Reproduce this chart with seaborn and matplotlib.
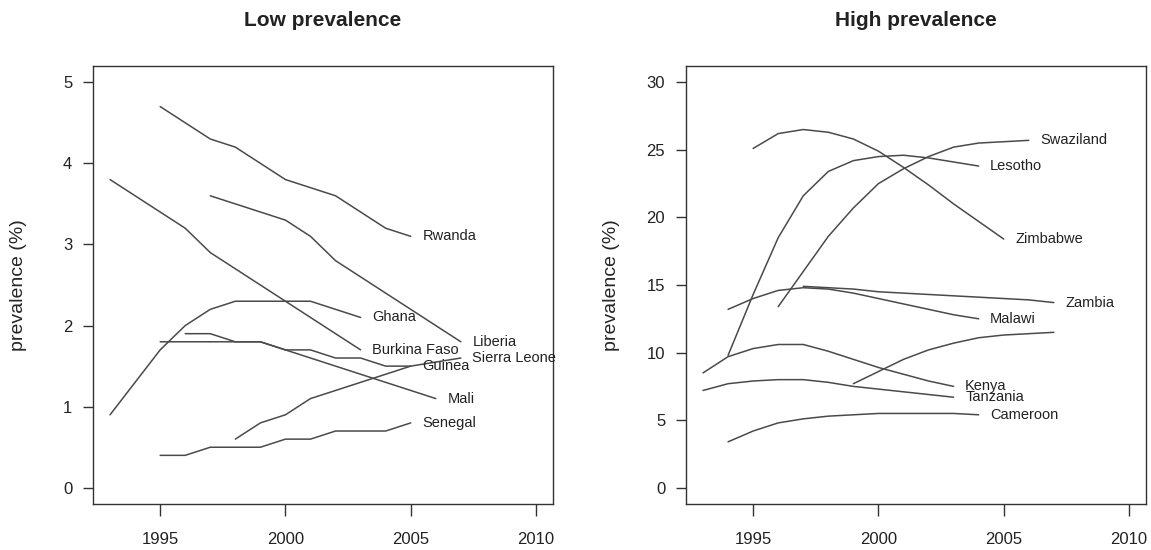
import matplotlib
matplotlib.use("Agg")
import matplotlib.pyplot as plt
import seaborn as sns
import pandas as pd

# ---------------- data ----------------
# Low prevalence panel
rwanda_years = [1995, 1997, 1998, 2000, 2002, 2004, 2005]
rwanda_vals = [4.7, 4.3, 4.2, 3.8, 3.6, 3.2, 3.1]
burkina_years = [1993, 1996, 1997, 2003]
burkina_vals = [3.8, 3.2, 2.9, 1.7]
liberia_years = [1997, 2000, 2001, 2002, 2007]
liberia_vals = [3.6, 3.3, 3.1, 2.8, 1.8]
ghana_years = [1993, 1995, 1996, 1997, 1998, 2001, 2003]
ghana_vals = [0.9, 1.7, 2.0, 2.2, 2.3, 2.3, 2.1]
guinea_years = [1995, 1999, 2000, 2001, 2002, 2003, 2004, 2005]
guinea_vals = [1.8, 1.8, 1.7, 1.7, 1.6, 1.6, 1.5, 1.5]
sierra_years = [1998, 1999, 2000, 2001, 2002, 2005, 2007]
sierra_vals = [0.6, 0.8, 0.9, 1.1, 1.2, 1.5, 1.6]
mali_years = [1996, 1997, 1998, 1999, 2006]
mali_vals = [1.9, 1.9, 1.8, 1.8, 1.1]
senegal_years = [1995, 1996, 1997, 1999, 2000, 2001, 2002, 2004, 2005]
senegal_vals = [0.4, 0.4, 0.5, 0.5, 0.6, 0.6, 0.7, 0.7, 0.8]

# High prevalence panel
zimbabwe_years = list(range(1995, 2006))
zimbabwe_vals = [25.1, 26.2, 26.5, 26.3, 25.8, 24.9, 23.7, 22.4, 21.0, 19.7, 18.4]
lesotho_years = list(range(1994, 2005))
lesotho_vals = [9.8, 14.3, 18.5, 21.6, 23.4, 24.2, 24.5, 24.6, 24.4, 24.1, 23.8]
swaziland_years = list(range(1996, 2007))
swaziland_vals = [13.4, 16.0, 18.6, 20.7, 22.5, 23.6, 24.5, 25.2, 25.5, 25.6, 25.7]
zambia_years = list(range(1997, 2008))
zambia_vals = [14.9, 14.8, 14.7, 14.5, 14.4, 14.3, 14.2, 14.1, 14.0, 13.9, 13.7]
malawi_years = list(range(1994, 2005))
malawi_vals = [13.2, 14.0, 14.6, 14.8, 14.7, 14.4, 14.0, 13.6, 13.2, 12.8, 12.5]
kenya_years = list(range(1993, 2004))
kenya_vals = [8.5, 9.7, 10.3, 10.6, 10.6, 10.1, 9.5, 8.9, 8.4, 7.9, 7.5]
tanzania_years = list(range(1993, 2004))
tanzania_vals = [7.2, 7.7, 7.9, 8.0, 8.0, 7.8, 7.5, 7.3, 7.1, 6.9, 6.7]
mozambique_years = list(range(1999, 2008))
mozambique_vals = [7.7, 8.6, 9.5, 10.2, 10.7, 11.1, 11.3, 11.4, 11.5]
cameroon_years = list(range(1994, 2005))
cameroon_vals = [3.4, 4.2, 4.8, 5.1, 5.3, 5.4, 5.5, 5.5, 5.5, 5.5, 5.4]

low_series = [
    ("Rwanda", rwanda_years, rwanda_vals, True),
    ("Burkina Faso", burkina_years, burkina_vals, True),
    ("Liberia", liberia_years, liberia_vals, True),
    ("Ghana", ghana_years, ghana_vals, True),
    ("Guinea", guinea_years, guinea_vals, True),
    ("Sierra Leone", sierra_years, sierra_vals, True),
    ("Mali", mali_years, mali_vals, True),
    ("Senegal", senegal_years, senegal_vals, True),
]
high_series = [
    ("Zimbabwe", zimbabwe_years, zimbabwe_vals, True),
    ("Lesotho", lesotho_years, lesotho_vals, True),
    ("Swaziland", swaziland_years, swaziland_vals, True),
    ("Zambia", zambia_years, zambia_vals, True),
    ("Malawi", malawi_years, malawi_vals, True),
    ("Kenya", kenya_years, kenya_vals, True),
    ("Tanzania", tanzania_years, tanzania_vals, True),
    ("Mozambique", mozambique_years, mozambique_vals, False),
    ("Cameroon", cameroon_years, cameroon_vals, True),
]

x_ticks = [1995, 2000, 2005, 2010]
low_yticks = [0, 1, 2, 3, 4, 5]
high_yticks = [0, 5, 10, 15, 20, 25, 30]
titles = ["Low prevalence", "High prevalence"]
ylabel = "prevalence (%)"

# ---------------- style ----------------
sns.set_theme(style="ticks")
plt.rcParams["font.family"] = ["Liberation Sans", "DejaVu Sans"]
plt.rcParams["axes.edgecolor"] = "#333333"
plt.rcParams["axes.linewidth"] = 1.0
plt.rcParams["text.color"] = "#222222"
plt.rcParams["xtick.color"] = "#333333"
plt.rcParams["ytick.color"] = "#333333"
plt.rcParams["xtick.labelcolor"] = "#222222"
plt.rcParams["ytick.labelcolor"] = "#222222"

LINE_COLOR = "#4a4a4a"

fig = plt.figure(figsize=(11.51, 5.5), dpi=100)
ax_low = fig.add_axes([0.0808, 0.0836, 0.3997, 0.7964])
ax_high = fig.add_axes([0.5960, 0.0836, 0.3997, 0.7964])


def to_frame(series):
    rows = []
    for name, yrs, vals, _ in series:
        for y, v in zip(yrs, vals):
            rows.append({"country": name, "year": y, "prevalence": v})
    return pd.DataFrame(rows)


def draw(ax, series, yticks, title):
    df = to_frame(series)
    sns.lineplot(data=df, x="year", y="prevalence", units="country",
                 estimator=None, color=LINE_COLOR, linewidth=1.1,
                 sort=True, ax=ax, legend=False)
    for name, yrs, vals, show in series:
        if show:
            ax.annotate(name, xy=(yrs[-1], vals[-1]), xytext=(8.3, 0),
                        textcoords="offset points", ha="left", va="center",
                        fontsize=10.5, color="#222222")
    xmin, xmax = 1993, 2010
    pad = 0.04 * (xmax - xmin)
    ax.set_xlim(xmin - pad, xmax + pad)
    ymin, ymax = yticks[0], yticks[-1]
    ypad = 0.04 * (ymax - ymin)
    ax.set_ylim(ymin - ypad, ymax + ypad)
    ax.set_xticks(x_ticks)
    ax.set_xticklabels([str(t) for t in x_ticks])
    ax.set_yticks(yticks)
    ax.set_yticklabels([str(t) for t in yticks])
    ax.tick_params(axis="x", length=8.5, width=1.0, pad=12, labelsize=12)
    ax.tick_params(axis="y", length=7.5, width=1.0, pad=7.5, labelsize=12)
    ax.set_xlabel("")
    ax.set_ylabel(ylabel, fontsize=14)
    ax.yaxis.set_label_coords(-0.1435, 0.5)
    ax.set_title(title, y=1.103, va="center", pad=0, fontsize=15,
                 fontweight="bold")
    for s in ax.spines.values():
        s.set_visible(True)


draw(ax_low, low_series, low_yticks, titles[0])
draw(ax_high, high_series, high_yticks, titles[1])

fig.savefig("out.png", dpi=100, facecolor="white")
